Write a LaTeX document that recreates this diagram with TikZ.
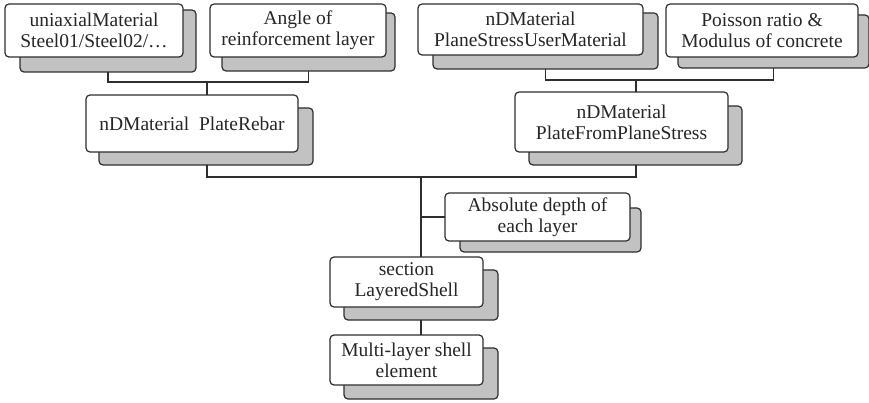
\documentclass[tikz,border=0pt]{standalone}
\usepackage{fontspec}
\setmainfont{Liberation Serif}
\begin{document}
\begin{tikzpicture}[x=1pt,y=-1pt,
  front/.style={draw=linec, fill=white, line width=1.2pt, rounded corners=4pt,
    inner sep=0pt, outer sep=0pt, align=center, text=black!85,
    font=\fontsize{19.5pt}{21pt}\selectfont},
  shad/.style={draw=linec, fill=shadc, line width=1.2pt, rounded corners=4pt,
    inner sep=0pt, outer sep=0pt},
  conn/.style={draw=linec, line width=1.1pt},
  trunk/.style={draw=linec, line width=1.7pt}]
\definecolor{linec}{HTML}{2E2E2E}
\definecolor{shadc}{HTML}{C2C2C2}
\useasboundingbox (0,0) rectangle (869,403);

% shadows
\node[shad, minimum width=176pt, minimum height=62pt] (As) at (108,41) {};
\node[shad, minimum width=173pt, minimum height=58pt] (Bs) at (308.5,42) {};
\node[shad, minimum width=214pt, minimum height=57pt] (Cs) at (206,136.5) {};
\node[shad, minimum width=225pt, minimum height=56pt] (Ds) at (545.5,41) {};
\node[shad, minimum width=191pt, minimum height=53pt] (Es) at (773.5,41.5) {};
\node[shad, minimum width=213pt, minimum height=59pt] (Fs) at (635.5,135.5) {};
\node[shad, minimum width=181pt, minimum height=44pt] (Gs) at (550.5,230) {};
\node[shad, minimum width=154pt, minimum height=50pt] (Hs) at (421,295) {};
\node[shad, minimum width=154pt, minimum height=51pt] (Is) at (421,373.5) {};

% front boxes
\node[front, minimum width=178pt, minimum height=53pt] (A) at (94,30.5) {uniaxialMaterial\\Steel01/Steel02/\ldots};
\node[front, minimum width=176pt, minimum height=53pt] (B) at (298,30.5) {Angle of\\reinforcement layer};
\node[front, minimum width=212pt, minimum height=57pt] (C) at (192,123.5) {nDMaterial\ \ PlateRebar};
\node[front, minimum width=225pt, minimum height=51pt] (D) at (530.5,29.5) {nDMaterial\\PlaneStressUserMaterial};
\node[front, minimum width=192pt, minimum height=53pt] (E) at (762,30.5) {Poisson ratio \&\\Modulus of concrete};
\node[front, minimum width=213pt, minimum height=60pt] (F) at (621.5,122) {nDMaterial\\PlateFromPlaneStress};
\node[front, minimum width=185pt, minimum height=48pt] (G) at (537.5,217) {Absolute depth of\\each layer};
\node[front, minimum width=153pt, minimum height=50pt] (H) at (406.5,282) {section\\LayeredShell};
\node[front, minimum width=153pt, minimum height=50pt] (I) at (406.5,360) {Multi-layer shell\\element};

% junctions
\coordinate (j1) at (207,82);
\coordinate (j2) at (636,80);
\coordinate (j3) at (421,177);

% connectors
\draw[conn] (As.south) |- (j1) -| (Bs.south);
\draw[conn] (j1) -- (j1 |- C.north);
\draw[conn] (Ds.south) |- (j2) -| (Es.south);
\draw[conn] (j2) -- (j2 |- F.north);
\draw[conn] (Cs.south -| j1) |- (j3) -| (Fs.south -| j2);
\draw[trunk] (j3) -- (j3 |- H.north);
\draw[conn] (G.west) -- (G.west -| j3);
\draw[conn] (Hs.south) -- (Hs.south |- I.north);
\end{tikzpicture}
\end{document}
